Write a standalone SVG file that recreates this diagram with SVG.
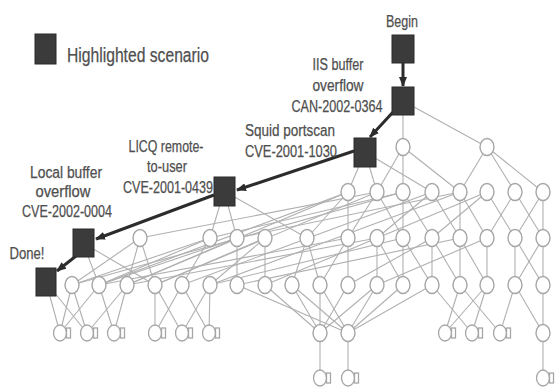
<svg xmlns="http://www.w3.org/2000/svg" width="557" height="389" viewBox="0 0 557 389">
<style>
.e{stroke:#b0b0b0;stroke-width:1.1;fill:none}
.n{fill:#fff;stroke:#a6a6a6;stroke-width:1.4}
.lf{fill:#fff;stroke:#a6a6a6;stroke-width:1.3}
.hs{fill:#3b3b3b;stroke:#2a2a2a;stroke-width:1}
.ha{stroke:#2c2c2c;stroke-width:3;fill:none;marker-end:url(#ah)}
.t{font-family:"Liberation Sans",Arial,sans-serif;font-size:16px;fill:#4f4f4f;stroke:#4f4f4f;stroke-width:0.25;text-anchor:middle}
</style>
<defs>
<marker id="ah" viewBox="0 0 10 8" refX="9" refY="4" markerWidth="10" markerHeight="8" markerUnits="userSpaceOnUse" orient="auto"><path d="M0,0 L10,4 L0,8 z" fill="#2c2c2c"/></marker>
</defs>
<rect width="557" height="389" fill="#fff"/>
<g id="legend">
<rect class="hs" x="35" y="34" width="21" height="30"/>
<text x="67" y="62" style="font-family:'Liberation Sans',Arial,sans-serif;font-size:20px;fill:#4f4f4f;stroke:#4f4f4f;stroke-width:0.25" textLength="142" lengthAdjust="spacingAndGlyphs">Highlighted scenario</text>
</g>
<g id="connectors">
<g class="e">
<line x1="403" y1="101" x2="403" y2="147"/><line x1="403" y1="101" x2="487" y2="147"/>
<line x1="403" y1="147" x2="403" y2="192"/><line x1="403" y1="147" x2="460" y2="192"/><line x1="403" y1="147" x2="377" y2="192"/>
<line x1="487" y1="147" x2="460" y2="192"/><line x1="487" y1="147" x2="515" y2="192"/><line x1="487" y1="147" x2="543" y2="192"/>
<line x1="365" y1="152" x2="348" y2="192"/><line x1="365" y1="152" x2="377" y2="192"/><line x1="365" y1="152" x2="432" y2="192"/>
<line x1="348" y1="192" x2="307" y2="238"/><line x1="348" y1="192" x2="348" y2="238"/>
<line x1="377" y1="192" x2="348" y2="238"/><line x1="377" y1="192" x2="403" y2="238"/><line x1="377" y1="192" x2="140" y2="238"/>
<line x1="403" y1="192" x2="403" y2="238"/><line x1="403" y1="192" x2="432" y2="238"/><line x1="403" y1="192" x2="210" y2="238"/>
<line x1="432" y1="192" x2="377" y2="238"/><line x1="432" y1="192" x2="460" y2="238"/>
<line x1="460" y1="192" x2="460" y2="238"/><line x1="460" y1="192" x2="487" y2="238"/><line x1="460" y1="192" x2="237" y2="238"/>
<line x1="487" y1="192" x2="432" y2="238"/><line x1="487" y1="192" x2="515" y2="238"/>
<line x1="515" y1="192" x2="487" y2="238"/><line x1="515" y1="192" x2="543" y2="238"/>
<line x1="543" y1="192" x2="515" y2="238"/><line x1="543" y1="192" x2="543" y2="238"/>
<line x1="348" y1="192" x2="99" y2="285"/><line x1="348" y1="192" x2="127" y2="285"/><line x1="377" y1="192" x2="155" y2="285"/>
<line x1="403" y1="192" x2="72" y2="285"/><line x1="432" y1="192" x2="182" y2="285"/><line x1="460" y1="192" x2="210" y2="285"/>
<line x1="487" y1="192" x2="265" y2="285"/>
<line x1="348" y1="238" x2="99" y2="285"/><line x1="377" y1="238" x2="127" y2="285"/><line x1="403" y1="238" x2="210" y2="285"/><line x1="460" y1="238" x2="237" y2="285"/>
<line x1="224" y1="191" x2="210" y2="238"/><line x1="224" y1="191" x2="237" y2="238"/><line x1="224" y1="191" x2="307" y2="238"/>
<line x1="83" y1="243" x2="99" y2="285"/><line x1="83" y1="243" x2="155" y2="285"/>
<line x1="46" y1="282" x2="60" y2="333"/><line x1="46" y1="282" x2="87" y2="333"/>
<line x1="140" y1="238" x2="72" y2="285"/><line x1="140" y1="238" x2="127" y2="285"/><line x1="140" y1="238" x2="155" y2="285"/>
<line x1="210" y1="238" x2="72" y2="285"/><line x1="210" y1="238" x2="99" y2="285"/><line x1="210" y1="238" x2="182" y2="285"/>
<line x1="237" y1="238" x2="99" y2="285"/><line x1="237" y1="238" x2="127" y2="285"/><line x1="237" y1="238" x2="237" y2="285"/>
<line x1="265" y1="238" x2="155" y2="285"/><line x1="265" y1="238" x2="265" y2="285"/><line x1="265" y1="238" x2="210" y2="285"/>
<line x1="307" y1="238" x2="292" y2="285"/><line x1="307" y1="238" x2="320" y2="285"/>
<line x1="348" y1="238" x2="320" y2="285"/><line x1="348" y1="238" x2="348" y2="285"/>
<line x1="377" y1="238" x2="377" y2="285"/><line x1="377" y1="238" x2="403" y2="285"/>
<line x1="403" y1="238" x2="403" y2="285"/><line x1="403" y1="238" x2="432" y2="285"/>
<line x1="432" y1="238" x2="432" y2="285"/><line x1="432" y1="238" x2="460" y2="285"/><line x1="432" y1="238" x2="348" y2="285"/>
<line x1="460" y1="238" x2="460" y2="285"/><line x1="460" y1="238" x2="487" y2="285"/>
<line x1="487" y1="238" x2="487" y2="285"/><line x1="487" y1="238" x2="377" y2="285"/>
<line x1="515" y1="238" x2="515" y2="285"/><line x1="515" y1="238" x2="543" y2="285"/>
<line x1="543" y1="238" x2="543" y2="285"/><line x1="543" y1="238" x2="515" y2="285"/>
<line x1="72" y1="285" x2="60" y2="333"/><line x1="72" y1="285" x2="87" y2="333"/>
<line x1="99" y1="285" x2="60" y2="333"/><line x1="99" y1="285" x2="114" y2="333"/>
<line x1="127" y1="285" x2="87" y2="333"/><line x1="127" y1="285" x2="114" y2="333"/>
<line x1="155" y1="285" x2="155" y2="333"/><line x1="155" y1="285" x2="182" y2="333"/>
<line x1="182" y1="285" x2="155" y2="333"/><line x1="182" y1="285" x2="209" y2="333"/>
<line x1="210" y1="285" x2="182" y2="333"/><line x1="210" y1="285" x2="209" y2="333"/>
<line x1="265" y1="285" x2="320" y2="333"/><line x1="292" y1="285" x2="320" y2="333"/><line x1="320" y1="285" x2="320" y2="333"/><line x1="348" y1="285" x2="320" y2="333"/><line x1="377" y1="285" x2="320" y2="333"/>
<line x1="237" y1="285" x2="348" y2="333"/><line x1="292" y1="285" x2="348" y2="333"/><line x1="320" y1="285" x2="348" y2="333"/><line x1="377" y1="285" x2="348" y2="333"/><line x1="403" y1="285" x2="348" y2="333"/><line x1="432" y1="285" x2="348" y2="333"/>
<line x1="460" y1="285" x2="445" y2="333"/><line x1="487" y1="285" x2="445" y2="333"/>
<line x1="432" y1="285" x2="472" y2="333"/><line x1="487" y1="285" x2="472" y2="333"/>
<line x1="460" y1="285" x2="500" y2="333"/><line x1="515" y1="285" x2="500" y2="333"/>
<line x1="515" y1="285" x2="543" y2="333"/><line x1="543" y1="285" x2="543" y2="333"/>
<line x1="320" y1="333" x2="320" y2="378"/><line x1="348" y1="333" x2="348" y2="378"/><line x1="543" y1="333" x2="543" y2="378"/>
</g>
</g>
<g id="nodesA">
<g id="a1"><ellipse class="n" cx="403" cy="147" rx="7" ry="8.5"/></g>
<g id="a2"><ellipse class="n" cx="487" cy="147" rx="7" ry="8.5"/></g>
</g>
<g id="nodesB">
<g id="b348"><ellipse class="n" cx="348" cy="192" rx="7" ry="8.5"/></g>
<g id="b377"><ellipse class="n" cx="377" cy="192" rx="7" ry="8.5"/></g>
<g id="b403"><ellipse class="n" cx="403" cy="192" rx="7" ry="8.5"/></g>
<g id="b432"><ellipse class="n" cx="432" cy="192" rx="7" ry="8.5"/></g>
<g id="b460"><ellipse class="n" cx="460" cy="192" rx="7" ry="8.5"/></g>
<g id="b487"><ellipse class="n" cx="487" cy="192" rx="7" ry="8.5"/></g>
<g id="b515"><ellipse class="n" cx="515" cy="192" rx="7" ry="8.5"/></g>
<g id="b543"><ellipse class="n" cx="543" cy="192" rx="7" ry="8.5"/></g>
</g>
<g id="nodesC">
<g id="c140"><ellipse class="n" cx="140" cy="238" rx="7" ry="8.5"/></g>
<g id="c210"><ellipse class="n" cx="210" cy="238" rx="7" ry="8.5"/></g>
<g id="c237"><ellipse class="n" cx="237" cy="238" rx="7" ry="8.5"/></g>
<g id="c265"><ellipse class="n" cx="265" cy="238" rx="7" ry="8.5"/></g>
<g id="c307"><ellipse class="n" cx="307" cy="238" rx="7" ry="8.5"/></g>
<g id="c348"><ellipse class="n" cx="348" cy="238" rx="7" ry="8.5"/></g>
<g id="c377"><ellipse class="n" cx="377" cy="238" rx="7" ry="8.5"/></g>
<g id="c403"><ellipse class="n" cx="403" cy="238" rx="7" ry="8.5"/></g>
<g id="c432"><ellipse class="n" cx="432" cy="238" rx="7" ry="8.5"/></g>
<g id="c460"><ellipse class="n" cx="460" cy="238" rx="7" ry="8.5"/></g>
<g id="c487"><ellipse class="n" cx="487" cy="238" rx="7" ry="8.5"/></g>
<g id="c515"><ellipse class="n" cx="515" cy="238" rx="7" ry="8.5"/></g>
<g id="c543"><ellipse class="n" cx="543" cy="238" rx="7" ry="8.5"/></g>
</g>
<g id="nodesD">
<g id="d72"><ellipse class="n" cx="72" cy="285" rx="7" ry="8.5"/></g>
<g id="d99"><ellipse class="n" cx="99" cy="285" rx="7" ry="8.5"/></g>
<g id="d127"><ellipse class="n" cx="127" cy="285" rx="7" ry="8.5"/></g>
<g id="d155"><ellipse class="n" cx="155" cy="285" rx="7" ry="8.5"/></g>
<g id="d182"><ellipse class="n" cx="182" cy="285" rx="7" ry="8.5"/></g>
<g id="d210"><ellipse class="n" cx="210" cy="285" rx="7" ry="8.5"/></g>
<g id="d237"><ellipse class="n" cx="237" cy="285" rx="7" ry="8.5"/></g>
<g id="d265"><ellipse class="n" cx="265" cy="285" rx="7" ry="8.5"/></g>
<g id="d292"><ellipse class="n" cx="292" cy="285" rx="7" ry="8.5"/></g>
<g id="d320"><ellipse class="n" cx="320" cy="285" rx="7" ry="8.5"/></g>
<g id="d348"><ellipse class="n" cx="348" cy="285" rx="7" ry="8.5"/></g>
<g id="d377"><ellipse class="n" cx="377" cy="285" rx="7" ry="8.5"/></g>
<g id="d403"><ellipse class="n" cx="403" cy="285" rx="7" ry="8.5"/></g>
<g id="d432"><ellipse class="n" cx="432" cy="285" rx="7" ry="8.5"/></g>
<g id="d460"><ellipse class="n" cx="460" cy="285" rx="7" ry="8.5"/></g>
<g id="d487"><ellipse class="n" cx="487" cy="285" rx="7" ry="8.5"/></g>
<g id="d515"><ellipse class="n" cx="515" cy="285" rx="7" ry="8.5"/></g>
<g id="d543"><ellipse class="n" cx="543" cy="285" rx="7" ry="8.5"/></g>
</g>
<g id="nodesE">
<g id="e60"><ellipse class="lf" cx="60" cy="333" rx="6.5" ry="8"/><rect class="lf" x="66.5" y="328" width="4" height="10"/></g>
<g id="e87"><ellipse class="lf" cx="87" cy="333" rx="6.5" ry="8"/><rect class="lf" x="93.5" y="328" width="4" height="10"/></g>
<g id="e114"><ellipse class="lf" cx="114" cy="333" rx="6.5" ry="8"/><rect class="lf" x="120.5" y="328" width="4" height="10"/></g>
<g id="e155"><ellipse class="lf" cx="155" cy="333" rx="6.5" ry="8"/><rect class="lf" x="161.5" y="328" width="4" height="10"/></g>
<g id="e182"><ellipse class="lf" cx="182" cy="333" rx="6.5" ry="8"/><rect class="lf" x="188.5" y="328" width="4" height="10"/></g>
<g id="e209"><ellipse class="lf" cx="209" cy="333" rx="6.5" ry="8"/><rect class="lf" x="215.5" y="328" width="4" height="10"/></g>
<g id="e320"><ellipse class="n" cx="320" cy="333" rx="7" ry="8.5"/></g>
<g id="e348"><ellipse class="n" cx="348" cy="333" rx="7" ry="8.5"/></g>
<g id="e445"><ellipse class="lf" cx="445" cy="333" rx="6.5" ry="8"/><rect class="lf" x="451.5" y="328" width="4" height="10"/></g>
<g id="e472"><ellipse class="lf" cx="472" cy="333" rx="6.5" ry="8"/><rect class="lf" x="478.5" y="328" width="4" height="10"/></g>
<g id="e500"><ellipse class="lf" cx="500" cy="333" rx="6.5" ry="8"/><rect class="lf" x="506.5" y="328" width="4" height="10"/></g>
<g id="e543"><ellipse class="n" cx="543" cy="333" rx="7" ry="8.5"/></g>
</g>
<g id="nodesF">
<g id="f320"><ellipse class="lf" cx="320" cy="378" rx="6.5" ry="8"/><rect class="lf" x="326.5" y="373" width="4" height="10"/></g>
<g id="f348"><ellipse class="lf" cx="348" cy="378" rx="6.5" ry="8"/><rect class="lf" x="354.5" y="373" width="4" height="10"/></g>
<g id="f543"><ellipse class="lf" cx="543" cy="378" rx="6.5" ry="8"/><rect class="lf" x="549.5" y="373" width="4" height="10"/></g>
</g>
<g id="highlight-arrows">
<line class="ha" x1="403" y1="63" x2="403" y2="86"/>
<line class="ha" x1="394" y1="111" x2="370" y2="137"/>
<line class="ha" x1="354" y1="151" x2="237" y2="190"/>
<line class="ha" x1="214" y1="195" x2="96" y2="239"/>
<line class="ha" x1="76" y1="256" x2="57" y2="271"/>
</g>
<g id="begin"><rect class="hs" x="392" y="35" width="22" height="28"/><text class="t" x="402" y="27" textLength="32" lengthAdjust="spacingAndGlyphs">Begin</text></g>
<g id="iis"><rect class="hs" x="392" y="87" width="22" height="28"/>
<text class="t" x="338" y="70" textLength="51" lengthAdjust="spacingAndGlyphs">IIS buffer</text>
<text class="t" x="338" y="91" textLength="51" lengthAdjust="spacingAndGlyphs">overflow</text>
<text class="t" x="337" y="112" textLength="91" lengthAdjust="spacingAndGlyphs">CAN-2002-0364</text></g>
<g id="squid"><rect class="hs" x="354" y="138" width="22" height="29"/>
<text class="t" x="290" y="136" textLength="90" lengthAdjust="spacingAndGlyphs">Squid portscan</text>
<text class="t" x="291" y="157" textLength="92" lengthAdjust="spacingAndGlyphs">CVE-2001-1030</text></g>
<g id="licq"><rect class="hs" x="214" y="177" width="21" height="29"/>
<text class="t" x="166" y="152" textLength="75" lengthAdjust="spacingAndGlyphs">LICQ remote-</text>
<text class="t" x="167" y="172" textLength="40" lengthAdjust="spacingAndGlyphs">to-user</text>
<text class="t" x="168" y="193" textLength="90" lengthAdjust="spacingAndGlyphs">CVE-2001-0439</text></g>
<g id="local"><rect class="hs" x="73" y="229" width="21" height="28"/>
<text class="t" x="66" y="178" textLength="72" lengthAdjust="spacingAndGlyphs">Local buffer</text>
<text class="t" x="63" y="197" textLength="55" lengthAdjust="spacingAndGlyphs">overflow</text>
<text class="t" x="67" y="217" textLength="90" lengthAdjust="spacingAndGlyphs">CVE-2002-0004</text></g>
<g id="done"><rect class="hs" x="36" y="268" width="20" height="28"/>
<text class="t" x="27" y="259" textLength="35" lengthAdjust="spacingAndGlyphs">Done!</text></g>
</svg>
